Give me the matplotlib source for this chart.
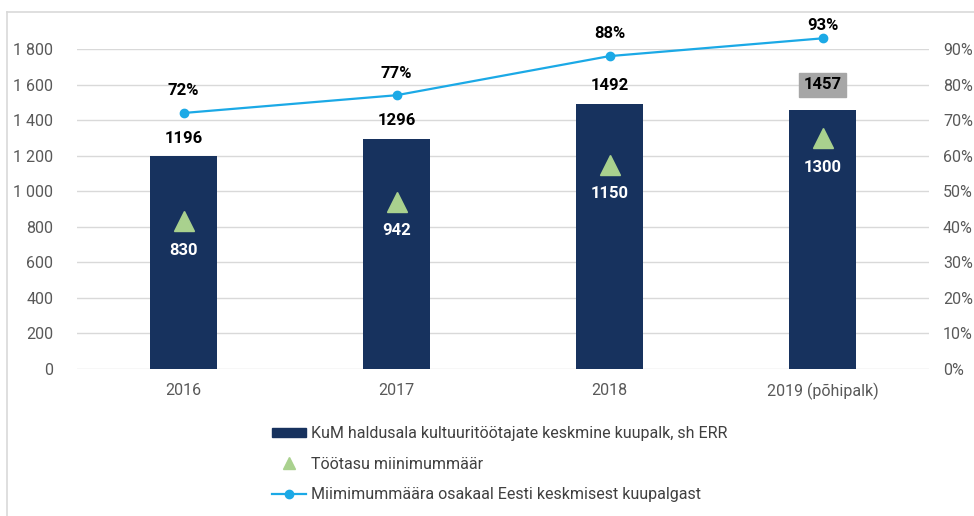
import matplotlib
matplotlib.use("Agg")
import matplotlib.pyplot as plt
from matplotlib.lines import Line2D
from matplotlib.patches import Patch
from matplotlib.ticker import FuncFormatter, PercentFormatter

plt.rcParams['font.family'] = ['Roboto', 'DejaVu Sans']

# andmed
aastad = ["2016", "2017", "2018", "2019 (põhipalk)"]
keskmine_palk = [1196, 1296, 1492, 1457]
miinimum = [830, 942, 1150, 1300]
osakaal = [72, 77, 88, 93]

nimi_palk = "KuM haldusala kultuuritöötajate keskmine kuupalk, sh ERR"
nimi_miinimum = "Töötasu miinimummäär"
nimi_osakaal = "Miimimummäära osakaal Eesti keskmisest kuupalgast"

tume = "#17325E"
roheline = "#A9D18E"
sinine = "#1BA9E6"
hall = "#595959"

fig = plt.figure(figsize=(9.74, 5.16), dpi=100)
ax = fig.add_axes([77 / 974, 1 - 369 / 516, 852 / 974, 320 / 516])
ax2 = ax.twinx()

x = list(range(len(aastad)))
ax.bar(x, keskmine_palk, width=0.315, color=tume, zorder=2)
ax.plot(x, miinimum, linestyle="none", marker="^", markersize=14,
        color=roheline, zorder=3)
ax2.plot(x, osakaal, color=sinine, linewidth=1.6, marker="o", markersize=6,
         zorder=4, clip_on=False)

ax.set_xlim(-0.5, len(aastad) - 0.5)
ax.set_ylim(0, 1800)
ax.set_yticks(range(0, 1801, 200))
ax.yaxis.set_major_formatter(FuncFormatter(lambda v, p: f"{int(v):,}".replace(",", " ")))
ax2.set_ylim(0, 90)
ax2.set_yticks(range(0, 91, 10))
ax2.yaxis.set_major_formatter(PercentFormatter(decimals=0))

ax.set_xticks(x)
ax.set_xticklabels(aastad)
ax.grid(axis="y", color="#D9D9D9", linewidth=1, zorder=0)
ax.set_axisbelow(True)
for a in (ax, ax2):
    for s in a.spines.values():
        s.set_visible(False)
    a.tick_params(length=0, labelsize=11.5, labelcolor=hall)
ax.tick_params(axis="y", pad=17)
ax.tick_params(axis="x", pad=10)
ax2.tick_params(axis="y", pad=10)

# sildid
for i, v in enumerate(keskmine_palk):
    if i == len(keskmine_palk) - 1:
        ax.annotate(str(v), (i, v), xytext=(0, 18), textcoords="offset points",
                    ha="center", va="center", fontsize=12, fontweight="bold",
                    color="black",
                    bbox=dict(boxstyle="square,pad=0.25", fc="#A6A6A6", ec="#A6A6A6"))
    else:
        ax.annotate(str(v), (i, v), xytext=(0, 13), textcoords="offset points",
                    ha="center", va="center", fontsize=12, fontweight="bold",
                    color="black")
for i, v in enumerate(miinimum):
    ax.annotate(str(v), (i, v), xytext=(0, -21), textcoords="offset points",
                ha="center", va="center", fontsize=12, fontweight="bold",
                color="white", zorder=5)
for i, v in enumerate(osakaal):
    nihe = 9 if i == len(osakaal) - 1 else 16
    ax2.annotate(f"{v}%", (i, v), xytext=(0, nihe), textcoords="offset points",
                 ha="center", va="center", fontsize=12, fontweight="bold",
                 color="black", annotation_clip=False)

# legend
kasitlejad = [
    Patch(facecolor=tume, edgecolor=tume),
    Line2D([], [], linestyle="none", marker="^", markersize=9, color=roheline),
    Line2D([], [], color=sinine, linewidth=1.6, marker="o", markersize=6),
]
fig.legend(kasitlejad, [nimi_palk, nimi_miinimum, nimi_osakaal],
           loc="upper left", bbox_to_anchor=(258 / 974, 1 - 412 / 516),
           frameon=False, fontsize=11.5, handlelength=2.1, handleheight=0.5,
           handletextpad=0.3, labelspacing=0.95, labelcolor="#404040")

# raam
fig.add_artist(Line2D([7 / 974, 7 / 974], [0, 1 - 12 / 516], color="#D9D9D9", linewidth=1.2))
fig.add_artist(Line2D([7 / 974, 1], [1 - 12 / 516, 1 - 12 / 516], color="#D9D9D9", linewidth=1.2))

fig.savefig("out.png", dpi=100)
